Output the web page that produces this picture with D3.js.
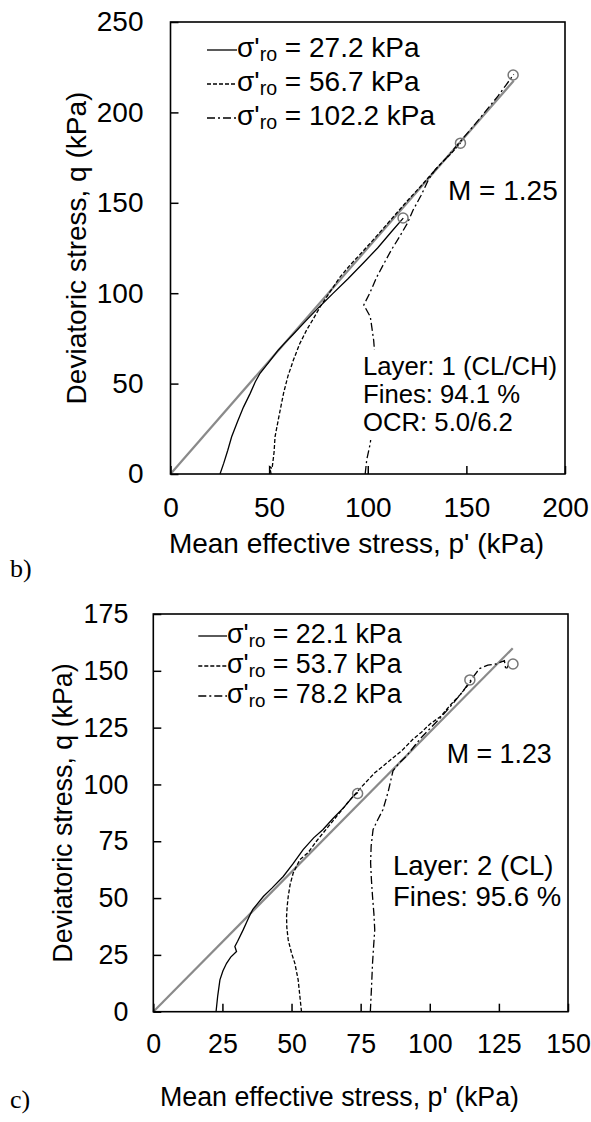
<!DOCTYPE html>
<html>
<head>
<meta charset="utf-8">
<script src="https://cdn.jsdelivr.net/npm/d3@7"></script>
<style>
  body { margin: 0; background: #fff; }
  svg { display: block; }
  text { font-family: "Liberation Sans", Arial, sans-serif; fill: #000; }
</style>
</head>
<body>
<div id="chart"></div>
<script>
// ---- panel b) data: stress paths [p', q] in kPa ----
const pathB1 = [[25.1,0],[27,6],[29,13],[31,20.6],[34,29],[37,37],[40.4,44.6],[43,51],[45.4,55.7],[50,62],[54.7,68.6],[58,72.5],[62,77],[68,84],[75,92],[82,99.5],[90,108],[98,117],[105,125],[112,134],[118,141.5]];
const pathB2 = [[51,0],[50.3,4],[51.5,3],[52.5,12],[53,20.6],[55,32],[57.3,44.6],[59.5,54],[62.3,63],[65.5,72],[69,79.6],[72.5,86],[75.9,92.5],[81,101],[86,109],[91,115.5],[97,122.5],[104,131],[112,141],[120,151],[128,160.5],[136,170.5],[142,177],[147,183]];
const pathB3 = [[98.7,0],[99.5,8],[101.3,17],[102.5,30],[103.5,45],[104,60],[103,74],[101.3,87],[98,93.5],[101,100],[104.6,109],[108,116],[112,124],[116,131],[120,138.5],[123,146],[127,154],[130.7,162.6],[134,168],[140,175],[147,184],[154,193],[160,201],[166,209],[170,215],[174,221]];
const failB = [[117.9,141.6],[147,183],[173.7,220.7]];
const mB = 1.25, mEndB = 174;
const legendB = ["27.2", "56.7", "102.2"];
const notesB = ["Layer: 1 (CL/CH)", "Fines: 94.1 %", "OCR: 5.0/6.2"];

// ---- panel c) data ----
const pathC1 = [[22.7,0],[23.3,7],[24.1,14],[25.2,18],[26.5,21.3],[28,24],[30.1,26.5],[29.5,28.7],[30.5,31],[32.5,36],[34,40],[35,42.7],[36,45],[39.8,50.7],[43,54.5],[47,59.5],[50.5,65],[54.2,71.3],[58,76.5],[61.4,80.2],[65,85],[69,90],[72.3,94.8],[74,96.5]];
const pathC2 = [[53.6,0],[53,7],[52.4,14],[51.2,21.3],[50,25.8],[48.8,31.6],[48.3,37],[48.2,41.9],[48.4,46],[48.8,50.7],[49.5,56],[50.6,61],[53,66.9],[56,70],[59,75],[63,81],[67,87],[71,93],[75,98.5],[80,105],[85,110],[90,115],[94,120],[97,123],[100,126.5],[104,130],[107.5,135],[111,139.5],[115,145.5]];
const pathC3 = [[78.5,0],[78.9,10],[79.3,21.3],[79.7,29],[80.1,36],[79.8,43],[79.3,50.7],[78.9,58],[78.6,65.5],[78.8,73],[79.5,80.2],[81,84],[83.1,89],[85,97],[86.7,106],[89,109.5],[91.6,112.5],[96.4,119.9],[100,124.5],[104,129.5],[108,135],[112,141],[115.5,147],[118,151],[121,152.5],[124,153],[127,154.5],[127.5,150.5],[128.5,152.5]];
const failC = [[73.9,96],[114.5,146],[130.1,153]];
const mC = 1.23, mEndC = 130;
const legendC = ["22.1", "53.7", "78.2"];
const notesC = ["Layer: 2 (CL)", "Fines: 95.6 %"];

const dashes = [null, "4,2", "8,3,2,3"];

const svg = d3.select("#chart").append("svg")
  .attr("width", 591)
  .attr("height", 1122);

function drawPanel(o) {
  const x = d3.scaleLinear().domain([0, o.xMax]).range(o.xRange);
  const y = d3.scaleLinear().domain([0, o.yMax]).range(o.yRange);
  const g = svg.append("g");

  // critical state line q = M p'
  g.append("line")
    .attr("x1", x(0)).attr("y1", y(0))
    .attr("x2", x(o.mEnd)).attr("y2", y(o.m * o.mEnd))
    .attr("stroke", "#8a8a8a").attr("stroke-width", 2.2);

  const line = d3.line().x(d => x(d[0])).y(d => y(d[1]));
  o.paths.forEach((p, i) => {
    g.append("path")
      .attr("d", line(p))
      .attr("fill", "none")
      .attr("stroke", "#000")
      .attr("stroke-width", 1.3)
      .attr("stroke-dasharray", dashes[i]);
  });

  g.selectAll(".fail").data(o.fail).enter().append("circle")
    .attr("cx", d => x(d[0])).attr("cy", d => y(d[1]))
    .attr("r", 5).attr("fill", "none")
    .attr("stroke", "#777").attr("stroke-width", 1.5);

  // axes, ticks pointing inward
  g.append("g")
    .attr("transform", `translate(0,${o.yRange[0]})`)
    .call(d3.axisBottom(x).tickValues(o.xTicks).tickSizeInner(-8).tickSizeOuter(0).tickPadding(o.padX))
    .call(a => a.select(".domain").remove())
    .call(a => a.selectAll("line").attr("stroke-width", 1.5))
    .call(a => a.selectAll("text").attr("font-size", o.fs).attr("font-family", "Liberation Sans, Arial"));
  g.append("g")
    .attr("transform", `translate(${o.xRange[0]},0)`)
    .call(d3.axisLeft(y).tickValues(o.yTicks).tickSizeInner(-8).tickSizeOuter(0).tickPadding(o.padY))
    .call(a => a.select(".domain").remove())
    .call(a => a.selectAll("line").attr("stroke-width", 1.5))
    .call(a => a.selectAll("text").attr("font-size", o.fs).attr("font-family", "Liberation Sans, Arial"));

  // frame
  g.append("rect")
    .attr("x", o.xRange[0]).attr("y", o.yRange[1])
    .attr("width", o.xRange[1] - o.xRange[0])
    .attr("height", o.yRange[0] - o.yRange[1])
    .attr("fill", "none").attr("stroke", "#000").attr("stroke-width", 1.6);

  // legend
  o.legend.forEach((v, i) => {
    const by = o.legY[i];
    g.append("line")
      .attr("x1", o.legX[0]).attr("x2", o.legX[1])
      .attr("y1", by - 7).attr("y2", by - 7)
      .attr("stroke", "#000").attr("stroke-width", 1.3)
      .attr("stroke-dasharray", dashes[i]);
    const t = g.append("text").attr("x", o.legX[1]).attr("y", by).attr("font-size", o.fs);
    t.append("tspan").text("σ'");
    t.append("tspan").attr("font-size", o.fs * 0.7).attr("dy", 4).text("ro");
    t.append("tspan").attr("dy", -4).text(` = ${v} kPa`);
  });

  // notes
  if (o.noteBox) {
    g.append("rect").attr("x", o.noteBox[0]).attr("y", o.noteBox[1])
      .attr("width", o.noteBox[2]).attr("height", o.noteBox[3]).attr("fill", "#fff");
  }
  o.notes.forEach((s, i) => {
    g.append("text").attr("x", o.noteX).attr("y", o.noteY[i])
      .attr("font-size", o.noteFs).text(s);
  });
  g.append("text").attr("x", o.mPos[0]).attr("y", o.mPos[1])
    .attr("font-size", o.fs).text(`M = ${o.m.toFixed(2)}`);

  // axis titles
  g.append("text")
    .attr("x", o.xTitle[0]).attr("y", o.xTitle[1])
    .attr("text-anchor", "middle").attr("font-size", o.fs)
    .text("Mean effective stress, p' (kPa)");
  g.append("text")
    .attr("transform", `translate(${o.yTitle[0]},${o.yTitle[1]}) rotate(-90)`)
    .attr("text-anchor", "middle").attr("font-size", o.fs)
    .text("Deviatoric stress, q (kPa)");

  // panel label
  g.append("text")
    .attr("x", o.label[0]).attr("y", o.label[1])
    .style("font-family", "'Liberation Serif', 'Times New Roman', serif")
    .attr("font-size", 26).text(o.label[2]);
}

drawPanel({
  xMax: 200, yMax: 250, xRange: [170.5, 565], yRange: [474, 22],
  xTicks: d3.range(0, 201, 50), yTicks: d3.range(0, 251, 50),
  fs: 28, padX: 23, padY: 27,
  paths: [pathB1, pathB2, pathB3], fail: failB, m: mB, mEnd: mEndB,
  legend: legendB, legX: [207, 237], legY: [57, 91, 125],
  notes: notesB, noteX: 363, noteY: [375, 403, 431], noteFs: 25.7,
  noteBox: [360, 350, 198, 90],
  mPos: [448, 200],
  xTitle: [356.5, 553], yTitle: [86, 248],
  label: [10, 577, "b)"]
});

drawPanel({
  xMax: 150, yMax: 175, xRange: [153.3, 568], yRange: [1011.7, 614],
  xTicks: d3.range(0, 151, 25), yTicks: d3.range(0, 176, 25),
  fs: 26.8, padX: 22, padY: 25,
  paths: [pathC1, pathC2, pathC3], fail: failC, m: mC, mEnd: mEndC,
  legend: legendC, legX: [198.3, 227], legY: [643, 673, 703],
  notes: notesC, noteX: 393, noteY: [875, 906], noteFs: 27.5,
  noteBox: null,
  mPos: [446.7, 763],
  xTitle: [339.5, 1106], yTitle: [72, 813],
  label: [10, 1108, "c)"]
});
</script>
</body>
</html>
